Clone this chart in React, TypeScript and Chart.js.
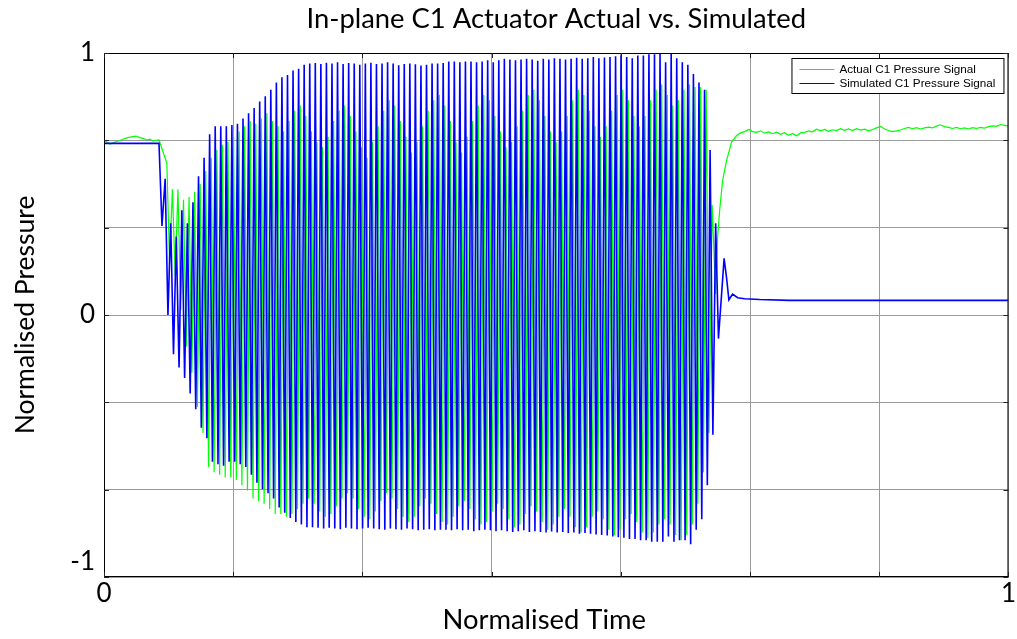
import React, { useEffect, useRef } from 'react';
import { Chart, registerables } from 'chart.js';

Chart.register(...registerables);

const TITLE = 'In-plane C1 Actuator Actual vs. Simulated';
const X_LABEL = 'Normalised Time';
const Y_LABEL = 'Normalised Pressure';
const SERIES_NAMES = ['Actual C1 Pressure Signal', 'Simulated C1 Pressure Signal'];

const xTickValues = [0, 1 / 7, 2 / 7, 3 / 7, 4 / 7, 5 / 7, 6 / 7, 1];
const xTickLabels = ['0', '', '', '', '', '', '', '1'];
const yTickValues = [-1, -2 / 3, -1 / 3, 0, 1 / 3, 2 / 3, 1];
const yTickLabels: (string | string[])[] = [['-1', ''], '', '', '0', '', '', '1'];

// time base of the oscillation (normalised time of first peak, and period)
const oscStart = 0.06762;
const oscPeriod = 0.006148;
const actualPhase = 0.3; // fraction of a period

// ---- Simulated signal ----
const simHeadT = [0, 0.0608, 0.0641];
const simHeadV = [0.655, 0.655, 0.34];
const simPeaks = [
  0.52, 0.35, 0.30, 0.40, 0.35, 0.43, 0.53, 0.60, 0.69, 0.72,
  0.72, 0.72, 0.725, 0.73, 0.75, 0.77, 0.79, 0.815, 0.835, 0.86,
  0.887, 0.907, 0.916, 0.933, 0.94, 0.955, 0.96, 0.962, 0.958, 0.963,
  0.96, 0.965, 0.958, 0.962, 0.96, 0.955, 0.96, 0.963, 0.958, 0.96,
  0.965, 0.96, 0.953, 0.958, 0.96, 0.957, 0.952, 0.955, 0.96, 0.96,
  0.962, 0.968, 0.968, 0.965, 0.968, 0.968, 0.965, 0.968, 0.972, 0.965,
  0.972, 0.978, 0.975, 0.972, 0.975, 0.978, 0.975, 0.97, 0.978, 0.975,
  0.98, 0.978, 0.975, 0.978, 0.982, 0.978, 0.98, 0.985, 0.98, 0.983,
  0.985, 0.988, 0.99, 0.985, 0.98, 0.99, 0.99, 0.995, 0.995, 1.0,
  0.965, 1.0, 0.98, 0.965, 0.955, 0.92, 0.887, 0.86, 0.63, 0.35,
];
const simTroughs = [
  0.0, -0.15, -0.20, -0.24, -0.30, -0.36, -0.43, -0.47, -0.56, -0.57,
  -0.575, -0.56, -0.56, -0.57, -0.58, -0.61, -0.64, -0.665, -0.68, -0.70,
  -0.735, -0.755, -0.775, -0.79, -0.80, -0.81, -0.81, -0.812, -0.815, -0.812,
  -0.815, -0.818, -0.812, -0.815, -0.818, -0.815, -0.812, -0.815, -0.818, -0.82,
  -0.815, -0.818, -0.82, -0.815, -0.818, -0.822, -0.82, -0.818, -0.822, -0.82,
  -0.82, -0.822, -0.818, -0.822, -0.82, -0.825, -0.822, -0.82, -0.822, -0.825,
  -0.822, -0.825, -0.828, -0.825, -0.822, -0.828, -0.825, -0.828, -0.83, -0.826,
  -0.83, -0.828, -0.832, -0.83, -0.835, -0.832, -0.835, -0.838, -0.84, -0.842,
  -0.845, -0.848, -0.85, -0.855, -0.855, -0.86, -0.86, -0.865, -0.865, -0.865,
  -0.845, -0.865, -0.86, -0.86, -0.875, -0.82, -0.78, -0.65, -0.457, -0.09,
];
const simTailT = [0.6856, 0.6884, 0.6909, 0.695, 0.7006, 0.7083, 0.7249, 0.758, 1.0];
const simTailV = [0.216, 0.14, 0.058, 0.08, 0.066, 0.062, 0.059, 0.056, 0.056];

// ---- Actual signal ----
const actHeadT = [0, 0.0033, 0.0066, 0.01, 0.0144, 0.0177, 0.021, 0.0254, 0.0287, 0.032, 0.0354, 0.0398, 0.0431, 0.0475, 0.0508, 0.0541, 0.0575, 0.0608];
const actHeadV = [0.664, 0.66, 0.652, 0.657, 0.663, 0.666, 0.671, 0.676, 0.679, 0.681, 0.683, 0.677, 0.674, 0.668, 0.671, 0.664, 0.667, 0.668];
const actPeaks = [
  0.58, 0.48, 0.48, 0.44, 0.45, 0.47, 0.50, 0.55, 0.60, 0.63,
  0.65, 0.66, 0.68, 0.70, 0.72, 0.74, 0.73, 0.75, 0.77, 0.74,
  0.72, 0.70, 0.74, 0.78, 0.80, 0.76, 0.70, 0.66, 0.64, 0.68,
  0.74, 0.78, 0.80, 0.76, 0.70, 0.64, 0.60, 0.66, 0.72, 0.78,
  0.82, 0.80, 0.74, 0.68, 0.62, 0.66, 0.72, 0.78, 0.82, 0.84,
  0.80, 0.74, 0.66, 0.62, 0.68, 0.74, 0.80, 0.84, 0.82, 0.76,
  0.70, 0.64, 0.66, 0.72, 0.78, 0.84, 0.86, 0.82, 0.76, 0.70,
  0.66, 0.70, 0.76, 0.82, 0.86, 0.84, 0.78, 0.72, 0.68, 0.72,
  0.78, 0.84, 0.86, 0.82, 0.76, 0.72, 0.76, 0.82, 0.86, 0.88,
  0.84, 0.80, 0.82, 0.86, 0.88, 0.87, 0.87, 0.86,
];
const actTroughs = [
  0.20, 0.15, 0.02, -0.12, -0.22, -0.35, -0.45, -0.58, -0.60, -0.61,
  -0.62, -0.62, -0.63, -0.65, -0.67, -0.70, -0.71, -0.72, -0.74, -0.76,
  -0.76, -0.77, -0.76, -0.74, -0.72, -0.70, -0.72, -0.75, -0.77, -0.76,
  -0.73, -0.70, -0.68, -0.70, -0.74, -0.77, -0.78, -0.75, -0.71, -0.68,
  -0.70, -0.74, -0.77, -0.79, -0.77, -0.73, -0.70, -0.72, -0.76, -0.79,
  -0.80, -0.77, -0.73, -0.71, -0.74, -0.78, -0.80, -0.79, -0.75, -0.72,
  -0.74, -0.78, -0.81, -0.80, -0.76, -0.73, -0.75, -0.79, -0.82, -0.80,
  -0.77, -0.74, -0.77, -0.81, -0.83, -0.81, -0.77, -0.75, -0.78, -0.82,
  -0.84, -0.82, -0.78, -0.76, -0.79, -0.83, -0.85, -0.83, -0.80, -0.78,
  -0.80, -0.84, -0.86, -0.84, -0.80, -0.72, -0.60, -0.45,
];
const actRecoverT = [0.6724, 0.6762, 0.6785, 0.6807, 0.684, 0.6884, 0.6939, 0.6994, 0.7039, 0.7083];
const actRecoverV = [0.42, 0.08, 0.30, 0.40, 0.515, 0.59, 0.66, 0.685, 0.695, 0.70];
// plateau sampled on a regular grid
const actPlateauStart = 0.7127;
const actPlateauStep = 0.00442;
const actPlateauV = [
  0.708, 0.700, 0.697, 0.703, 0.694, 0.699, 0.692, 0.698, 0.690, 0.696,
  0.686, 0.693, 0.684, 0.695, 0.697, 0.703, 0.699, 0.709, 0.703, 0.708,
  0.701, 0.707, 0.704, 0.711, 0.705, 0.710, 0.704, 0.711, 0.706, 0.709,
  0.703, 0.708, 0.714, 0.720, 0.710, 0.704, 0.700, 0.703, 0.706, 0.712,
  0.716, 0.711, 0.715, 0.710, 0.714, 0.717, 0.714, 0.721, 0.726, 0.719,
  0.716, 0.712, 0.716, 0.711, 0.714, 0.710, 0.715, 0.712, 0.716, 0.713,
  0.719, 0.722, 0.720, 0.727, 0.724, 0.721,
];

type P = { x: number; y: number };

function buildSimulated(): P[] {
  const pts: P[] = [];
  simHeadT.forEach((t, i) => pts.push({ x: t, y: simHeadV[i] }));
  simPeaks.forEach((p, k) => {
    pts.push({ x: oscStart + k * oscPeriod, y: p });
    pts.push({ x: oscStart + (k + 0.5) * oscPeriod, y: simTroughs[k] });
  });
  simTailT.forEach((t, i) => pts.push({ x: t, y: simTailV[i] }));
  return pts;
}

function buildActual(): P[] {
  const pts: P[] = [];
  actHeadT.forEach((t, i) => pts.push({ x: t, y: actHeadV[i] }));
  actPeaks.forEach((p, k) => {
    pts.push({ x: oscStart + (k + actualPhase) * oscPeriod, y: p });
    pts.push({ x: oscStart + (k + actualPhase + 0.5) * oscPeriod, y: actTroughs[k] });
  });
  actRecoverT.forEach((t, i) => pts.push({ x: t, y: actRecoverV[i] }));
  actPlateauV.forEach((v, i) => pts.push({ x: actPlateauStart + i * actPlateauStep, y: v }));
  return pts;
}

const GREEN = '#00ff00';
const BLUE = '#0000ff';
const TEXT_FONT = 'Lato, "Open Sans", sans-serif';

const decorPlugin = {
  id: 'decor',
  afterDatasetsDraw(chart: any) {
    const { ctx, chartArea: a, scales } = chart;
    ctx.save();
    // frame
    ctx.strokeStyle = '#000';
    ctx.lineWidth = 1;
    ctx.strokeRect(a.left + 0.5, a.top + 0.5, a.right - a.left - 1, a.bottom - a.top - 1);
    // inward tick marks on all four sides
    const tl = 5;
    ctx.strokeStyle = '#222';
    ctx.beginPath();
    xTickValues.forEach((v) => {
      const px = Math.round(scales.x.getPixelForValue(v)) + 0.5;
      ctx.moveTo(px, a.bottom);
      ctx.lineTo(px, a.bottom - tl);
      ctx.moveTo(px, a.top);
      ctx.lineTo(px, a.top + tl);
    });
    yTickValues.forEach((v) => {
      const py = Math.round(scales.y.getPixelForValue(v)) + 0.5;
      ctx.moveTo(a.left, py);
      ctx.lineTo(a.left + tl, py);
      ctx.moveTo(a.right, py);
      ctx.lineTo(a.right - tl, py);
    });
    ctx.stroke();

    // legend box (inside, top-right)
    const bw = 212;
    const bh = 35;
    const bx = a.right - 5 - bw;
    const by = a.top + 5;
    ctx.fillStyle = '#fff';
    ctx.fillRect(bx, by, bw, bh);
    ctx.strokeStyle = '#000';
    ctx.lineWidth = 1;
    ctx.strokeRect(bx + 0.5, by + 0.5, bw, bh);
    const colors = [GREEN, BLUE];
    ctx.font = '11.7px "Liberation Sans", Arial, sans-serif';
    ctx.textBaseline = 'middle';
    ctx.textAlign = 'left';
    SERIES_NAMES.forEach((name, i) => {
      const ly = by + 11 + i * 14;
      ctx.strokeStyle = colors[i];
      ctx.lineWidth = 1;
      ctx.beginPath();
      ctx.moveTo(bx + 8, ly + 0.5);
      ctx.lineTo(bx + 43, ly + 0.5);
      ctx.stroke();
      ctx.fillStyle = '#000';
      ctx.fillText(name, bx + 48, ly + 1);
    });

    // title and axis labels
    ctx.fillStyle = '#000';
    ctx.textAlign = 'center';
    ctx.textBaseline = 'middle';
    const cx = (a.left + a.right) / 2;
    ctx.font = `27.4px ${TEXT_FONT}`;
    ctx.fillText(TITLE, cx, 19);
    ctx.fillText(X_LABEL, cx - 12, 620);
    ctx.font = `26.5px ${TEXT_FONT}`;
    ctx.save();
    ctx.translate(25, (a.top + a.bottom) / 2);
    ctx.rotate(-Math.PI / 2);
    ctx.fillText(Y_LABEL, 0, 0);
    ctx.restore();
    ctx.restore();
  },
};

export default function App() {
  const ref = useRef<HTMLCanvasElement | null>(null);

  useEffect(() => {
    if (!ref.current) return;
    const chart = new Chart(ref.current, {
      type: 'line',
      data: {
        datasets: [
          {
            label: SERIES_NAMES[0],
            data: buildActual(),
            borderColor: GREEN,
            borderWidth: 1.2,
            pointRadius: 0,
            tension: 0,
            fill: false,
            order: 1,
          },
          {
            label: SERIES_NAMES[1],
            data: buildSimulated(),
            borderColor: BLUE,
            borderWidth: 1.6,
            pointRadius: 0,
            tension: 0,
            fill: false,
            order: 0,
          },
        ],
      },
      options: {
        responsive: false,
        devicePixelRatio: 1,
        animation: false,
        events: [],
        layout: { padding: { left: 0, right: 8, top: 53, bottom: 0 } },
        plugins: {
          legend: { display: false },
          title: { display: false },
          tooltip: { enabled: false },
        },
        scales: {
          x: {
            type: 'linear',
            min: 0,
            max: 1,
            afterBuildTicks: (axis: any) => {
              axis.ticks = xTickValues.map((v) => ({ value: v }));
            },
            afterFit: (axis: any) => {
              axis.height = 62;
            },
            ticks: {
              autoSkip: false,
              maxRotation: 0,
              padding: 1,
              color: '#000',
              font: { family: TEXT_FONT, size: 26 },
              callback: (_v: any, i: number) => xTickLabels[i],
            },
            grid: { color: '#9a9a9a', lineWidth: 1, drawTicks: false },
            border: { display: false },
          },
          y: {
            type: 'linear',
            min: -1,
            max: 1,
            afterBuildTicks: (axis: any) => {
              axis.ticks = yTickValues.map((v) => ({ value: v }));
            },
            afterFit: (axis: any) => {
              axis.width = 104;
            },
            ticks: {
              autoSkip: false,
              padding: 9,
              color: '#000',
              font: { family: TEXT_FONT, size: 26 },
              callback: (_v: any, i: number) => yTickLabels[i],
            },
            grid: { color: '#9a9a9a', lineWidth: 1, drawTicks: false },
            border: { display: false },
          },
        },
      },
      plugins: [decorPlugin],
    } as any);
    return () => chart.destroy();
  }, []);

  return (
    <div style={{ position: 'absolute', left: 0, top: 0, width: 1017, height: 639, background: '#fff' }}>
      <canvas ref={ref} width={1017} height={639} style={{ display: 'block' }} />
    </div>
  );
}
